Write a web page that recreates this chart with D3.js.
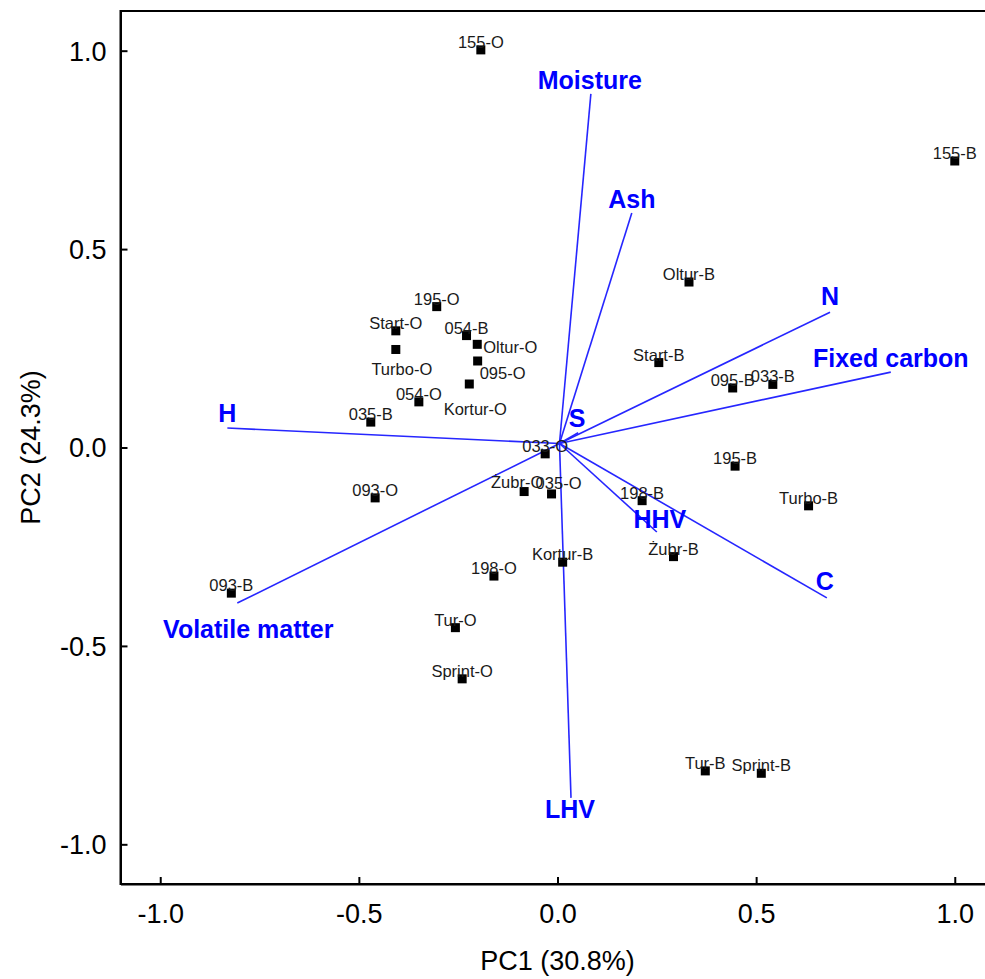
<!DOCTYPE html>
<html>
<head>
<meta charset="utf-8">
<script src="https://cdn.jsdelivr.net/npm/d3@7"></script>
<style>
  html, body { margin: 0; padding: 0; background: #fff; }
  svg { display: block; }
</style>
</head>
<body>
<svg id="chart" width="985" height="979"></svg>
<script>
// ---- Data ----
const sampleNames = ["155-O","155-B","Oltur-B","195-O","Start-O","054-B","Oltur-O","Turbo-O","095-O","Start-B",
  "Kortur-O","095-B","033-B","054-O","035-B","033-O","195-B","Żubr-O","035-O","093-O",
  "198-B","Turbo-B","Żubr-B","Kortur-B","198-O","093-B","Tur-O","Sprint-O","Tur-B","Sprint-B"];
const samplePC1 = [-0.193, 1.000, 0.331, -0.304, -0.407, -0.229, -0.202, -0.407, -0.201, 0.255,
  -0.222, 0.441, 0.542, -0.349, -0.470, -0.031, 0.447, -0.084, -0.015, -0.459,
  0.213, 0.632, 0.292, 0.013, -0.160, -0.821, -0.257, -0.240, 0.372, 0.513];
const samplePC2 = [1.002, 0.722, 0.417, 0.355, 0.294, 0.282, 0.260, 0.247, 0.218, 0.214,
  0.160, 0.150, 0.159, 0.115, 0.064, -0.016, -0.047, -0.111, -0.117, -0.127,
  -0.134, -0.147, -0.275, -0.289, -0.324, -0.367, -0.454, -0.583, -0.815, -0.821];

const variableNames = ["Moisture","Ash","N","Fixed carbon","C","HHV","LHV","Volatile matter","H","S"];
const variablePC1 = [0.084, 0.187, 0.686, 0.839, 0.678, 0.250, 0.034, -0.806, -0.831, 0.052];
const variablePC2 = [0.891, 0.591, 0.341, 0.190, -0.379, -0.213, -0.883, -0.392, 0.049, 0.037];
const vectorOrigin = [0.005, 0.010];

const xTicks = [-1.0, -0.5, 0.0, 0.5, 1.0];
const yTicks = [-1.0, -0.5, 0.0, 0.5, 1.0];
const xTitle = "PC1 (30.8%)";
const yTitle = "PC2 (24.3%)";

// ---- Label layout (pixel offsets, anchor) ----
const sampleLabelLayout = {
  "Turbo-O": {dx: 6, dy: 26, anchor: "middle"},
  "Oltur-O": {dx: 6, dy: 9, anchor: "start"},
  "095-O": {dx: 2, dy: 18, anchor: "start"},
  "Kortur-O": {dx: 6, dy: 31, anchor: "middle"},
  "Żubr-O": {dx: -7, dy: -4, anchor: "middle"},
  "035-O": {dx: 7, dy: -5, anchor: "middle"}
};
const defaultSampleLabel = {dx: 0, dy: -2, anchor: "middle"};
const variableLabelLayout = {
  "Moisture": {dx: -1, dy: -5},
  "Ash": {dx: 0, dy: -5},
  "N": {dx: 0, dy: -7},
  "Fixed carbon": {dx: 0, dy: -5},
  "C": {dx: -2, dy: -8},
  "HHV": {dx: 3, dy: -4},
  "LHV": {dx: -1, dy: 20},
  "Volatile matter": {dx: 11, dy: 35},
  "H": {dx: 0, dy: -6},
  "S": {dx: -1, dy: -6}
};

// ---- Chart ----
const svg = d3.select("#chart");
const font = "'Liberation Sans', Arial, Helvetica, sans-serif";
const x = d3.scaleLinear().domain([-1.1, 1.1]).range([120.5, 994.5]);
const y = d3.scaleLinear().domain([-1.1, 1.1]).range([884, 11]);
const fmt = d => d3.format(".1f")(d).replace("\u2212", "-");

// frame
svg.append("rect")
  .attr("x", x(-1.1)).attr("y", y(1.1))
  .attr("width", x(1.1) - x(-1.1)).attr("height", y(-1.1) - y(1.1))
  .attr("fill", "none").attr("stroke", "#000").attr("stroke-width", 2);

// axes with inward ticks
const xAxis = d3.axisBottom(x).tickValues(xTicks).tickFormat(fmt).tickSizeInner(-7).tickSizeOuter(0).tickPadding(20);
const yAxis = d3.axisLeft(y).tickValues(yTicks).tickFormat(fmt).tickSizeInner(-7).tickSizeOuter(0).tickPadding(14);

const gx = svg.append("g").attr("transform", `translate(0,${y(-1.1)})`).call(xAxis);
const gy = svg.append("g").attr("transform", `translate(${x(-1.1)},0)`).call(yAxis);
[gx, gy].forEach(g => {
  g.select(".domain").attr("stroke", "#000").attr("stroke-width", 2);
  g.selectAll(".tick line").attr("stroke", "#000").attr("stroke-width", 2);
  g.selectAll(".tick text").attr("fill", "#000").style("font-family", font).style("font-size", "27px");
});
gx.selectAll(".tick text").attr("dy", "0.71em");
gy.selectAll(".tick text").attr("dy", "0.35em");

// axis titles
svg.append("text").attr("x", x(0)).attr("y", 970)
  .attr("text-anchor", "middle").style("font-family", font).style("font-size", "27px").attr("fill", "#000")
  .text(xTitle);
svg.append("text").attr("transform", `translate(40,${y(0)}) rotate(-90)`)
  .attr("text-anchor", "middle").style("font-family", font).style("font-size", "27px").attr("fill", "#000")
  .text(yTitle);

// loading vectors
const vectors = variableNames.map((n, i) => ({name: n, pc1: variablePC1[i], pc2: variablePC2[i]}));
svg.append("g").selectAll("line").data(vectors).join("line")
  .attr("x1", x(vectorOrigin[0])).attr("y1", y(vectorOrigin[1]))
  .attr("x2", d => x(d.pc1)).attr("y2", d => y(d.pc2))
  .attr("stroke", "#2626ff").attr("stroke-width", 1.6);

// sample points
const samples = sampleNames.map((n, i) => ({name: n, pc1: samplePC1[i], pc2: samplePC2[i]}));
const sq = 9;
svg.append("g").selectAll("rect").data(samples).join("rect")
  .attr("x", d => x(d.pc1) - sq / 2).attr("y", d => y(d.pc2) - sq / 2)
  .attr("width", sq).attr("height", sq).attr("fill", "#000");

svg.append("g").selectAll("text").data(samples).join("text")
  .each(function(d) {
    const L = sampleLabelLayout[d.name] || defaultSampleLabel;
    d3.select(this).attr("x", x(d.pc1) + L.dx).attr("y", y(d.pc2) + L.dy).attr("text-anchor", L.anchor);
  })
  .style("font-family", font).style("font-size", "16.5px").attr("fill", "#1a1a1a")
  .text(d => d.name);

// variable labels
svg.append("g").selectAll("text").data(vectors).join("text")
  .attr("x", d => x(d.pc1) + variableLabelLayout[d.name].dx)
  .attr("y", d => y(d.pc2) + variableLabelLayout[d.name].dy)
  .attr("text-anchor", "middle")
  .style("font-family", font).style("font-size", "25px").style("font-weight", "bold")
  .attr("fill", "#0000ff")
  .text(d => d.name);
</script>
</body>
</html>
